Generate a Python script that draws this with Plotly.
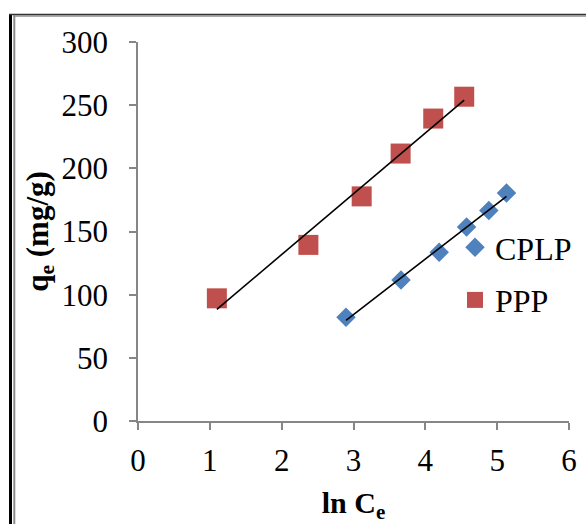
import numpy as np
import plotly.graph_objects as go

# Sorption isotherm data: ln Ce versus qe (mg/g)
cplp_ln_ce = [2.896, 3.661, 4.193, 4.574, 4.884, 5.130]
cplp_qe = [82.1, 111.7, 133.6, 153.5, 166.7, 180.5]

ppp_ln_ce = [1.098, 2.372, 3.114, 3.656, 4.110, 4.541]
ppp_qe = [97.1, 139.4, 177.8, 211.7, 239.4, 256.7]

x_ticks = [0, 1, 2, 3, 4, 5, 6]
y_ticks = [0, 50, 100, 150, 200, 250, 300]

BLUE = "#4F81BD"
RED = "#C0504D"
AXIS_GREY = "#868686"
FONT = "Liberation Serif, Times New Roman, serif"

W, H = 586, 524
ML, MR, MT, MB = 138, 17, 42, 103
PW, PH = W - ML - MR, H - MT - MB


def px_to_paper(px, py):
    return (px - ML) / PW, (H - MB - py) / PH


def linear_fit(x, y):
    slope, intercept = np.polyfit(x, y, 1)
    xs = np.array([min(x), max(x)])
    return xs, slope * xs + intercept


fig = go.Figure()

fig.add_trace(go.Scatter(
    x=cplp_ln_ce, y=cplp_qe, mode="markers", name="CPLP", legendgroup="a",
    marker=dict(symbol="diamond", size=15, color=BLUE, line=dict(width=0)),
))
fig.add_trace(go.Scatter(
    x=ppp_ln_ce, y=ppp_qe, mode="markers", name="PPP", legendgroup="b",
    marker=dict(symbol="square", size=20, color=RED, line=dict(width=0)),
))

# Linear trendlines over each series' range
for xs, ys in (linear_fit(cplp_ln_ce, cplp_qe), linear_fit(ppp_ln_ce, ppp_qe)):
    fig.add_trace(go.Scatter(
        x=xs, y=ys, mode="lines", showlegend=False, hoverinfo="skip",
        line=dict(color="black", width=1.6),
    ))

# Chart frame lines (left double rule and top rule)
shapes = []
x0, y0 = px_to_paper(10.5, 14)
x1, y1 = px_to_paper(10.5, H + 5)
shapes.append(dict(type="line", xref="paper", yref="paper", x0=x0, y0=y0, x1=x1, y1=y1,
                   line=dict(color="black", width=3)))
x0, y0 = px_to_paper(14.3, 15.5)
x1, y1 = px_to_paper(14.3, H + 5)
shapes.append(dict(type="line", xref="paper", yref="paper", x0=x0, y0=y0, x1=x1, y1=y1,
                   line=dict(color="#8c8c8c", width=2)))
x0, y0 = px_to_paper(9, 14.5)
x1, y1 = px_to_paper(W + 5, 14.5)
shapes.append(dict(type="line", xref="paper", yref="paper", x0=x0, y0=y0, x1=x1, y1=y1,
                   line=dict(color="#333333", width=1.5)))
x0, y0 = px_to_paper(13.3, 16)
x1, y1 = px_to_paper(W + 5, 16)
shapes.append(dict(type="line", xref="paper", yref="paper", x0=x0, y0=y0, x1=x1, y1=y1,
                   line=dict(color="#8c8c8c", width=1.5)))

leg_x, leg_y = px_to_paper(455, 220)

fig.update_layout(
    width=W, height=H,
    margin=dict(l=ML, r=MR, t=MT, b=MB, pad=0, autoexpand=False),
    paper_bgcolor="white", plot_bgcolor="white",
    font=dict(family=FONT, size=31, color="black"),
    showlegend=True,
    legend=dict(
        x=leg_x, y=leg_y, xanchor="left", yanchor="top",
        bgcolor="rgba(0,0,0,0)", font=dict(family=FONT, size=32, color="black"),
        traceorder="grouped", tracegroupgap=8, itemsizing="trace",
    ),
    shapes=shapes,
    xaxis=dict(
        range=[0, 6], tickvals=x_ticks, ticktext=[str(v) for v in x_ticks],
        showgrid=False, zeroline=False,
        showline=True, linecolor=AXIS_GREY, linewidth=1.5,
        ticks="outside", ticklen=7, tickwidth=1.5, tickcolor=AXIS_GREY,
        tickfont=dict(family=FONT, size=31), automargin=False, ticklabelstandoff=4,
        title=dict(text="<b>ln C<sub>e</sub></b>", font=dict(family=FONT, size=30), standoff=16),
    ),
    yaxis=dict(
        range=[0, 300], tickvals=y_ticks, ticktext=[str(v) for v in y_ticks],
        showgrid=False, zeroline=False,
        showline=True, linecolor=AXIS_GREY, linewidth=1.5,
        ticks="outside", ticklen=7, tickwidth=1.5, tickcolor=AXIS_GREY,
        tickfont=dict(family=FONT, size=31), automargin=False, ticklabelstandoff=15,
        title=dict(text="<b>q<sub>e</sub> (mg/g)</b>", font=dict(family=FONT, size=31), standoff=4),
    ),
)

fig.write_html("out.html")
